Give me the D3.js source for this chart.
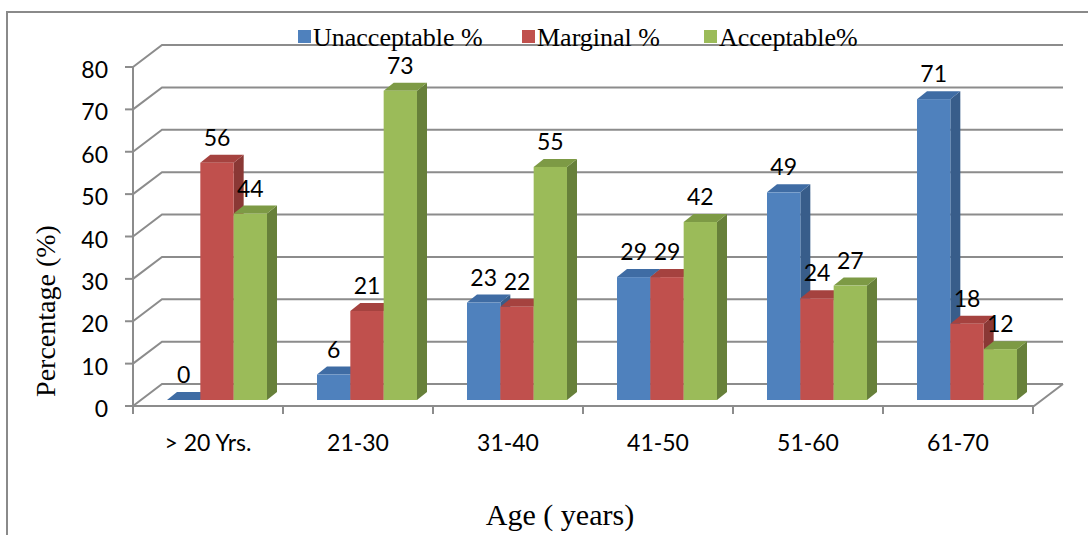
<!DOCTYPE html>
<html>
<head>
<meta charset="utf-8">
<script src="https://cdn.jsdelivr.net/npm/d3@7"></script>
<style>
  html, body { margin: 0; padding: 0; background: #fff; }
  svg { display: block; }
</style>
</head>
<body>
<script>
// Age groups and the share of each rating within them
const categories = ["> 20 Yrs.", "21-30", "31-40", "41-50", "51-60", "61-70"];
const seriesNames = ["Unacceptable %", "Marginal %", "Acceptable%"];
const unacceptable = [0, 6, 23, 29, 49, 71];
const marginal = [56, 21, 22, 29, 24, 18];
const acceptable = [44, 73, 55, 42, 27, 12];
const yTicks = [0, 10, 20, 30, 40, 50, 60, 70, 80];

const seriesValues = [unacceptable, marginal, acceptable];

// face colours: front, top, side
const palette = [
  { front: "#4F81BD", top: "#3F6CA4", side: "#385D8A" },
  { front: "#C0504D", top: "#A5423F", side: "#8A3835" },
  { front: "#9BBB59", top: "#7D9A45", side: "#67803A" }
];

const W = 1088, H = 535;
const svg = d3.select("body").append("svg").attr("width", W).attr("height", H);

// plot geometry
const left = 133, right = 1033, floorY = 406;
const depthX = 29, depthY = -22;          // back wall offset
const barDX = 9, barDY = -6;              // bar front face offset from front floor
const barDepthX = 10, barDepthY = -8;     // bar thickness

const x = d3.scaleBand().domain(categories).range([left, right]).paddingInner(0).paddingOuter(0);
const xs = d3.scaleBand().domain(d3.range(3)).range([0, x.bandwidth()]).paddingInner(0).paddingOuter(0.75);
const y = d3.scaleLinear().domain([0, 80]).range([floorY, 67]);

const gridColor = "#8C8C8C";
const sans = "Lato, 'Open Sans', sans-serif";
const serif = "'Liberation Serif', 'Times New Roman', serif";
const labelSize = 23;

// outer frame (top and left edges)
svg.append("path")
  .attr("d", `M7,${H} L7,12 L${W},12`)
  .attr("fill", "none").attr("stroke", "#8A8A8A").attr("stroke-width", 2);

// back wall gridlines and side wall diagonals
const grid = svg.append("g").attr("stroke", gridColor).attr("stroke-width", 2).attr("fill", "none");
yTicks.forEach(t => {
  const yy = y(t);
  grid.append("path").attr("d",
    `M${left},${yy} L${left + depthX},${yy + depthY} L${right + depthX + 1},${yy + depthY}`);
});
// floor: front edge and right edge
grid.append("path").attr("d",
  `M${left},${floorY} L${right + 1},${floorY} L${right + depthX + 1},${floorY + depthY}`);
// value axis line
grid.append("line").attr("x1", left).attr("x2", left).attr("y1", y(80)).attr("y2", floorY);

// value axis ticks and labels
yTicks.forEach(t => {
  grid.append("line").attr("x1", left - 8).attr("x2", left).attr("y1", y(t)).attr("y2", y(t));
  svg.append("text")
    .attr("x", 108).attr("y", y(t) + 11)
    .attr("text-anchor", "end")
    .attr("font-family", sans).attr("font-size", labelSize).attr("fill", "#000")
    .text(t);
});

// category ticks and labels
d3.range(categories.length + 1).forEach(i => {
  const xx = left + i * x.step();
  grid.append("line").attr("x1", xx).attr("x2", xx).attr("y1", floorY).attr("y2", floorY + 8);
});
categories.forEach(c => {
  svg.append("text")
    .attr("x", x(c) + x.bandwidth() / 2).attr("y", 451)
    .attr("text-anchor", "middle")
    .attr("font-family", sans).attr("font-size", labelSize).attr("fill", "#000")
    .text(c);
});

// 3D bars, drawn left to right so each front face hides the neighbour's side
const bars = svg.append("g");
categories.forEach((c, ci) => {
  seriesValues.forEach((vals, si) => {
    const v = vals[ci];
    const col = palette[si];
    const x0 = x(c) + xs(si) + barDX;
    const x1 = x0 + xs.bandwidth();
    const yb = y(0) + barDY;
    const yt = y(v) + barDY;
    const g = bars.append("g");
    // side face
    g.append("path")
      .attr("d", `M${x1},${yb} L${x1 + barDepthX},${yb + barDepthY} L${x1 + barDepthX},${yt + barDepthY} L${x1},${yt} Z`)
      .attr("fill", col.side);
    // top face
    g.append("path")
      .attr("d", `M${x0},${yt} L${x0 + barDepthX},${yt + barDepthY} L${x1 + barDepthX},${yt + barDepthY} L${x1},${yt} Z`)
      .attr("fill", col.top);
    // front face
    if (yb - yt > 0) {
      g.append("rect")
        .attr("x", x0).attr("y", yt)
        .attr("width", xs.bandwidth()).attr("height", yb - yt)
        .attr("fill", col.front);
    }
  });
});

// value labels
const labels = svg.append("g");
categories.forEach((c, ci) => {
  seriesValues.forEach((vals, si) => {
    const v = vals[ci];
    labels.append("text")
      .attr("x", x(c) + xs(si) + barDX + xs.bandwidth() / 2)
      .attr("y", y(v) + barDY - 17)
      .attr("text-anchor", "middle")
      .attr("font-family", sans).attr("font-size", labelSize).attr("fill", "#000")
      .text(v);
  });
});

// legend
const legendX = [298, 522, 704];
seriesNames.forEach((name, i) => {
  svg.append("rect")
    .attr("x", legendX[i]).attr("y", 30)
    .attr("width", 13).attr("height", 13)
    .attr("fill", palette[i].front);
  svg.append("text")
    .attr("x", legendX[i] + 15).attr("y", 46)
    .attr("font-family", serif).attr("font-size", 26).attr("fill", "#000")
    .text(name);
});

// axis titles
svg.append("text")
  .attr("transform", `translate(55,311) rotate(-90)`)
  .attr("text-anchor", "middle")
  .attr("font-family", serif).attr("font-size", 28).attr("fill", "#000")
  .text("Percentage (%)");

svg.append("text")
  .attr("x", 560).attr("y", 525)
  .attr("text-anchor", "middle")
  .attr("font-family", serif).attr("font-size", 30).attr("fill", "#000")
  .text("Age ( years)");
</script>
</body>
</html>
